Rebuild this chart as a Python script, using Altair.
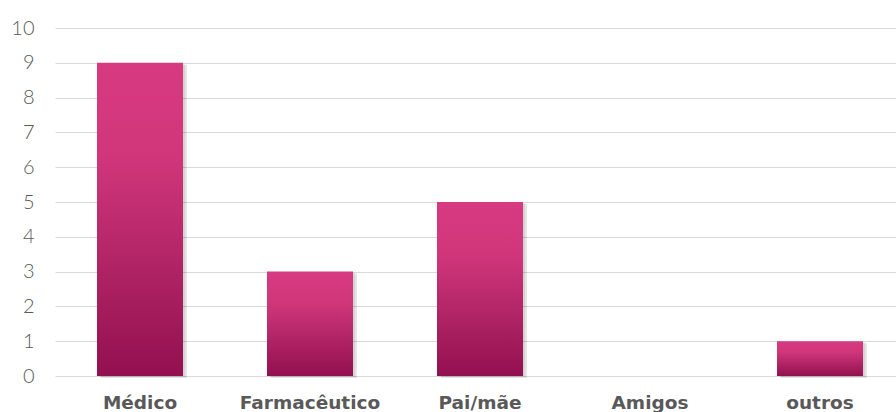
import altair as alt
import pandas as pd

categories = ["Médico", "Farmacêutico", "Pai/mãe", "Amigos", "outros"]
values = [9, 3, 5, 0, 1]
y_ticks = [0, 1, 2, 3, 4, 5, 6, 7, 8, 9, 10]

df = pd.DataFrame({"cat": categories, "val": values})

xscale = alt.Scale(domain=categories, range=[0, 850], paddingInner=0.494, paddingOuter=0.247)
yscale = alt.Scale(domain=[0, 10], nice=False)

x_enc = alt.X(
    "cat:N",
    scale=xscale,
    sort=categories,
    axis=alt.Axis(
        title=None,
        labelAngle=0,
        labelFont="DejaVu Sans",
        labelFontSize=18.5,
        labelFontWeight="bold",
        labelColor="#595959",
        labelPadding=17,
        ticks=False,
        domain=False,
        grid=False,
    ),
)
y_enc = alt.Y(
    "val:Q",
    scale=yscale,
    axis=alt.Axis(
        title=None,
        values=y_ticks,
        labelFont="Lato",
        labelFontSize=20,
        labelFontWeight=300,
        labelColor="#595959",
        labelPadding=21,
        ticks=False,
        domain=False,
        grid=True,
        gridColor="#D9D9D9",
        gridWidth=1,
    ),
)

base = alt.Chart(df)

shadow1 = base.mark_bar(color="#000000", opacity=0.10, xOffset=4, yOffset=2).encode(
    x=x_enc, y=y_enc
)
shadow2 = base.mark_bar(color="#000000", opacity=0.08, xOffset=2, yOffset=1).encode(
    x=x_enc, y=y_enc
)

bars = base.mark_bar(
    color=alt.Gradient(
        gradient="linear",
        stops=[
            alt.GradientStop(color="#D73A80", offset=0),
            alt.GradientStop(color="#D1367B", offset=0.3),
            alt.GradientStop(color="#B02465", offset=0.65),
            alt.GradientStop(color="#931050", offset=1),
        ],
        x1=0, x2=0, y1=0, y2=1,
    )
).encode(x=x_enc, y=y_enc)

chart = (
    alt.layer(shadow1, shadow2, bars)
    .properties(
        width=841,
        height=348,
        padding={"left": 55, "top": 28, "right": 0, "bottom": 36},
        autosize=alt.AutoSizeParams(type="none"),
        background="#FFFFFF",
    )
    .configure_view(stroke=None)
)

chart.save("out.html", embed_options={"renderer": "svg", "actions": False})
